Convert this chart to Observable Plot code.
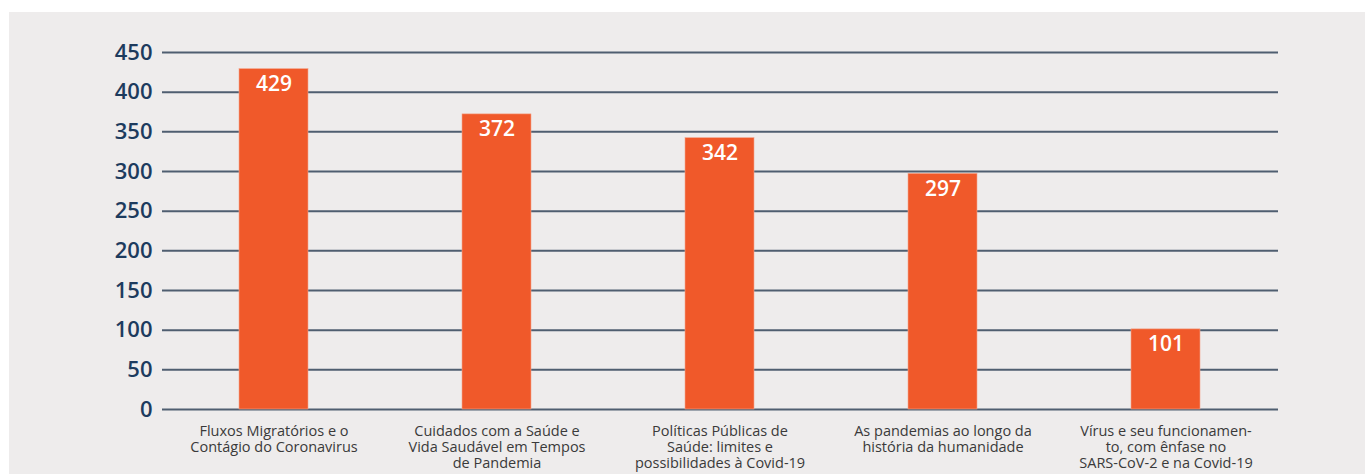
<!DOCTYPE html>
<html>
<head>
<meta charset="utf-8">
<script src="https://cdn.jsdelivr.net/npm/d3@7"></script>
<script src="https://cdn.jsdelivr.net/npm/@observablehq/plot@0.6"></script>
<style>
  html, body { margin: 0; padding: 0; background: #ffffff; overflow: hidden; }
  #panel { position: absolute; left: 9px; top: 12px; width: 1356px; height: 462px; background: #eeecec; }
  #panel svg { display: block; background: transparent; }
</style>
</head>
<body>
<div id="panel"></div>
<script>
const categories = [
  "Fluxos Migratórios e o\nContágio do Coronavirus",
  "Cuidados com a Saúde e\nVida Saudável em Tempos\nde Pandemia",
  "Políticas Públicas de\nSaúde: limites e\npossibilidades à Covid-19",
  "As pandemias ao longo da\nhistória da humanidade",
  "Vírus e seu funcionamen-\nto, com ênfase no\nSARS-CoV-2 e na Covid-19"
];
const values = [429, 372, 342, 297, 101];
const yTicks = [0, 50, 100, 150, 200, 250, 300, 350, 400, 450];

const data = categories.map((c, i) => ({category: c, value: values[i]}));

const chart = Plot.plot({
  width: 1356,
  height: 462,
  marginLeft: 153,
  marginRight: 87,
  marginTop: 40,
  marginBottom: 65,
  style: {background: "transparent", fontFamily: "'Open Sans', sans-serif"},
  x: {domain: categories, paddingInner: 0.69, paddingOuter: 0.345, label: null},
  y: {domain: [0, 450], label: null},
  marks: [
    Plot.ruleY(yTicks, {stroke: "#4f5e70", strokeWidth: 2}),
    Plot.barY(data, {x: "category", y: "value", fill: "#f0592a", stroke: "#f4a58c", strokeWidth: 0.6}),
    Plot.text(data, {x: "category", y: "value", text: d => String(d.value), dy: 15, fill: "#ffffff", fontSize: 21, fontWeight: 600}),
    Plot.axisY({ticks: yTicks, tickSize: 0, tickPadding: 10, fontSize: 22, fontWeight: 600, fill: "#1d3b5e", label: null}),
    Plot.axisX({tickSize: 0, tickPadding: 15, fontSize: 14.5, lineHeight: 1.1, fill: "#3a3a3a", label: null})
  ]
});
document.getElementById("panel").appendChild(chart);
</script>
</body>
</html>
